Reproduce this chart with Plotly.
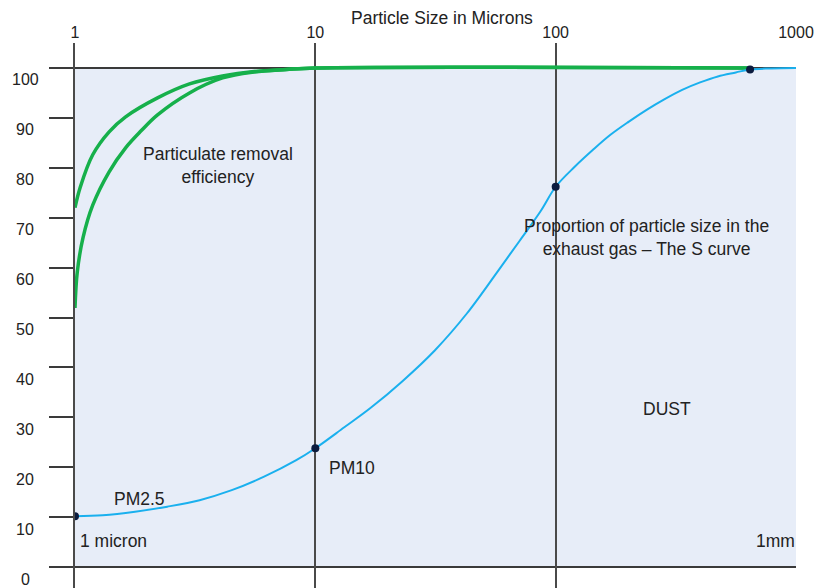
import plotly.graph_objects as go

# ---- data ----
s_curve_x = [1, 1.304, 1.777, 2.42, 3.30, 4.49, 6.12, 8.33, 10, 13.2, 16.9, 23.1, 31.4,
             42.7, 58.1, 72.1, 86.8, 100, 120, 143, 169, 201, 239, 283, 336, 399, 473,
             562, 644, 789, 1000]
s_curve_y = [10.2, 10.4, 11.1, 12.1, 13.4, 15.4, 18.1, 21.4, 23.8, 28.0, 31.8, 37.3, 43.4,
             50.8, 59.6, 65.9, 71.4, 76.2, 80.2, 83.6, 86.6, 89.2, 91.6, 93.7, 95.6, 97.1,
             98.3, 99.1, 99.7, 99.9, 100]

eff_upper_x = [1, 1.05, 1.185, 1.387, 1.624, 2.205, 2.995, 4.11, 5.57, 7.57, 10, 644]
eff_upper_y = [72, 76, 82.6, 87.2, 90.2, 94, 96.8, 98.4, 99.3, 99.7, 100, 100]

eff_lower_x = [1, 1.022, 1.08, 1.185, 1.387, 1.624, 1.884, 2.205, 2.995, 4.11, 5.57, 7.57, 10, 644]
eff_lower_y = [51.9, 59.1, 66, 72.5, 79.2, 84, 87.4, 90.6, 95.0, 98.0, 99.2, 99.7, 100, 100]

marker_x = [1, 10, 100, 644]
marker_y = [10.2, 23.8, 76.2, 99.7]

x_tick_vals = [1, 10, 100, 1000]
x_tick_text = ["1", "10", "100", "1000"]
y_tick_vals = [0, 10, 20, 30, 40, 50, 60, 70, 80, 90, 100]

# ---- layout geometry (body margin removed by post_script) ----
W, H = 818, 588
L, R, T, B = 75, 22, 43, 0
PW = W - L - R
PH = H - T - B
Y_MIN, Y_MAX = -4.2, 105.0

def px_x(px):
    return (px - L) / PW

def px_y(py):
    return (H - B - py) / PH

FONT = "Liberation Sans, Arial, Helvetica, sans-serif"
TXT = "#222222"
LINE = "#4a4a4a"

fig = go.Figure()

fig.add_trace(go.Scatter(x=eff_upper_x, y=eff_upper_y, mode="lines",
                         line=dict(color="#16B04B", width=3.5, shape="spline", smoothing=1.0),
                         hoverinfo="skip"))
fig.add_trace(go.Scatter(x=eff_lower_x, y=eff_lower_y, mode="lines",
                         line=dict(color="#16B04B", width=3.5, shape="spline", smoothing=1.0),
                         hoverinfo="skip"))
fig.add_trace(go.Scatter(x=s_curve_x, y=s_curve_y, mode="lines",
                         line=dict(color="#1AB0EE", width=2, shape="spline", smoothing=1.0),
                         hoverinfo="skip"))
fig.add_trace(go.Scatter(x=marker_x, y=marker_y, mode="markers",
                         marker=dict(color="#0B1B3F", size=8), hoverinfo="skip"))

# background panel and horizontal frame lines
fig.add_shape(type="rect", xref="paper", yref="y", x0=0, x1=1, y0=0, y1=100,
              fillcolor="#E7EDF8", line=dict(width=0), layer="below")
for yv in (0, 100):
    fig.add_shape(type="line", xref="paper", yref="y", x0=0, x1=1, y0=yv, y1=yv,
                  line=dict(color="#3a3a3a", width=2), layer="between")

annotations = []
# y tick labels (sit slightly below their ticks)
for v in y_tick_vals:
    annotations.append(dict(x=px_x(25), y=v, xref="paper", yref="y", text=str(v),
                            showarrow=False, xanchor="center", yanchor="middle", yshift=-12,
                            font=dict(size=16, color=TXT, family=FONT)))

def note(text, px, py, anchor="center", size=17.5):
    annotations.append(dict(x=px_x(px), y=px_y(py), xref="paper", yref="paper", text=text,
                            showarrow=False, xanchor=anchor, yanchor="middle", align="center",
                            font=dict(size=size, color=TXT, family=FONT)))

note("Particle Size in Microns", 442, 18)
note("Particulate removal<br>efficiency", 218, 165)
note("Proportion of particle size in the<br>exhaust gas – The S curve", 646, 237)
note("DUST", 667, 409)
note("1mm", 797, 541, anchor="right")
note("PM2.5", 139, 499)
note("PM10", 327, 468, anchor="left")
note("1 micron", 78, 541, anchor="left")

fig.update_layout(
    width=W, height=H, autosize=False,
    margin=dict(l=L, r=R, t=T, b=B, pad=0),
    paper_bgcolor="white", plot_bgcolor="white",
    showlegend=False,
    font=dict(family=FONT, color=TXT, size=16),
    annotations=annotations,
    xaxis=dict(type="log", range=[0, 3], side="top",
               tickvals=x_tick_vals, ticktext=x_tick_text,
               ticks="", ticklabelstandoff=1, ticklabeloverflow="allow",
               tickfont=dict(size=16, color=TXT, family=FONT),
               showgrid=True, gridcolor=LINE, gridwidth=2,
               showline=False, zeroline=False, fixedrange=True),
    yaxis=dict(range=[Y_MIN, Y_MAX], tickvals=y_tick_vals, showticklabels=False,
               ticks="outside", ticklen=24, tickwidth=2, tickcolor="#3a3a3a",
               showgrid=False, zeroline=False,
               showline=True, linecolor=LINE, linewidth=2, fixedrange=True),
)

fig.write_html("out.html",
               config={"displayModeBar": False, "staticPlot": True},
               post_script="document.body.style.margin='0';document.body.style.overflow='hidden';")
